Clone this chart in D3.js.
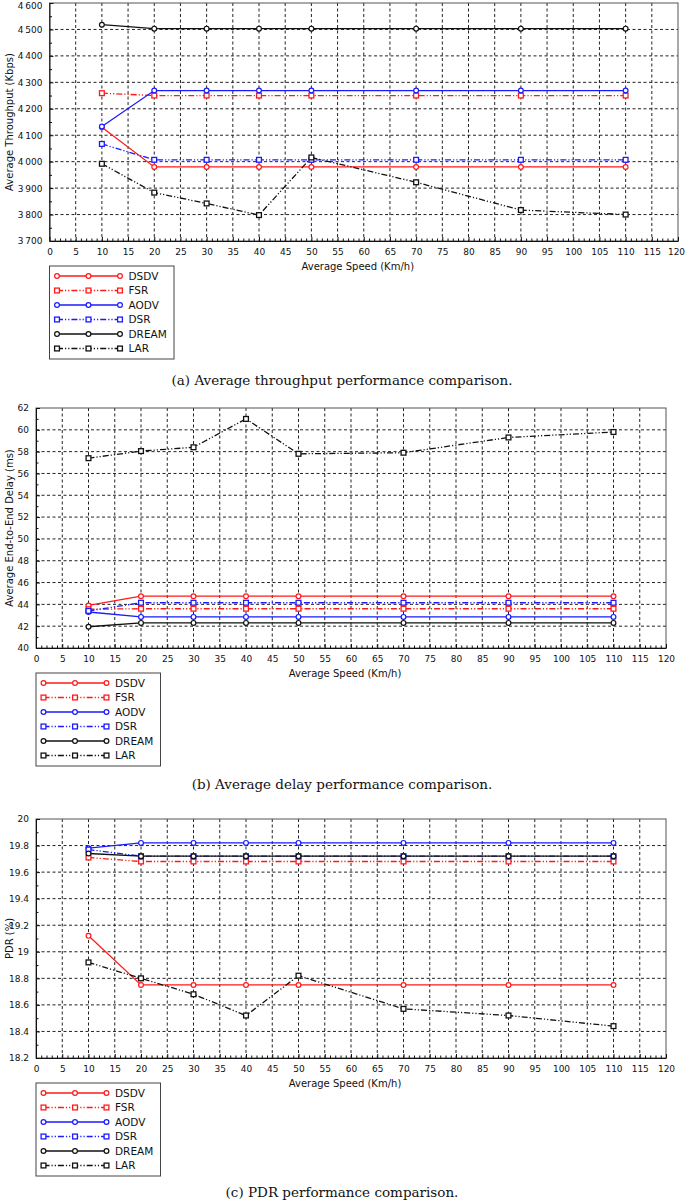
<!DOCTYPE html>
<html>
<head>
<meta charset="utf-8">
<script src="https://cdn.jsdelivr.net/npm/d3@7"></script>
<style>
  body { margin: 0; background: #fff; }
  svg { display: block; }
  text { font-family: "DejaVu Sans", sans-serif; fill: #111; }
  .caption { font-family: "DejaVu Serif", serif; }
</style>
</head>
<body>
<svg id="fig" width="685" height="1202"></svg>
<script>
// speeds on the x axis (km/h)
var speeds = [10, 20, 30, 40, 50, 70, 90, 110];
var protocols = ["DSDV", "FSR", "AODV", "DSR", "DREAM", "LAR"];

// (a) throughput, Kbps
var thrDSDV  = [4130, 3980, 3980, 3980, 3980, 3980, 3980, 3980];
var thrFSR   = [4259, 4250, 4250, 4250, 4250, 4250, 4250, 4250];
var thrAODV  = [4133, 4269, 4269, 4269, 4269, 4269, 4269, 4269];
var thrDSR   = [4067, 4007, 4007, 4007, 4007, 4007, 4007, 4007];
var thrDREAM = [4518, 4503, 4503, 4503, 4503, 4503, 4503, 4503];
var thrLAR   = [3992, 3883, 3842, 3798, 4016, 3922, 3817, 3800];

// (b) end-to-end delay, ms
var delDSDV  = [43.9, 44.75, 44.75, 44.75, 44.75, 44.75, 44.75, 44.75];
var delFSR   = [43.55, 43.6, 43.6, 43.6, 43.6, 43.6, 43.6, 43.6];
var delAODV  = [43.3, 42.85, 42.85, 42.85, 42.85, 42.85, 42.85, 42.85];
var delDSR   = [43.4, 44.15, 44.15, 44.15, 44.15, 44.15, 44.15, 44.15];
var delDREAM = [41.95, 42.3, 42.3, 42.3, 42.3, 42.3, 42.3, 42.3];
var delLAR   = [57.4, 58.05, 58.4, 61.0, 57.8, 57.9, 59.3, 59.8];

// (c) packet delivery ratio, %
var pdrDSDV  = [19.12, 18.75, 18.75, 18.75, 18.75, 18.75, 18.75, 18.75];
var pdrFSR   = [19.71, 19.68, 19.68, 19.68, 19.68, 19.68, 19.68, 19.68];
var pdrAODV  = [19.78, 19.82, 19.82, 19.82, 19.82, 19.82, 19.82, 19.82];
var pdrDSR   = [19.77, 19.72, 19.72, 19.72, 19.72, 19.72, 19.72, 19.72];
var pdrDREAM = [19.74, 19.72, 19.72, 19.72, 19.72, 19.72, 19.72, 19.72];
var pdrLAR   = [18.92, 18.80, 18.68, 18.52, 18.82, 18.57, 18.52, 18.44];

var thrTicks = [3700, 3800, 3900, 4000, 4100, 4200, 4300, 4400, 4500, 4600];
var delTicks = [40, 42, 44, 46, 48, 50, 52, 54, 56, 58, 60, 62];
var pdrTicks = [18.2, 18.4, 18.6, 18.8, 19, 19.2, 19.4, 19.6, 19.8, 20];
var xTicks = d3.range(0, 121, 5);

// line look per protocol
var colors = {DSDV: "#ff1a1a", FSR: "#ff1a1a", AODV: "#1a1aff", DSR: "#1a1aff", DREAM: "#111", LAR: "#111"};
var shapes = {DSDV: "circle", FSR: "square", AODV: "circle", DSR: "square", DREAM: "circle", LAR: "square"};
var dashed = {DSDV: false, FSR: true, AODV: false, DSR: true, DREAM: false, LAR: true};
var dashPattern = "6,2,1.2,2,1.2,2";

var svg = d3.select("#fig");

function marker(g, shape, x, y, color) {
  if (shape == "circle") {
    g.append("circle").attr("cx", x).attr("cy", y).attr("r", 2.4)
      .attr("fill", "#fff").attr("stroke", color).attr("stroke-width", 1.2);
  } else {
    g.append("rect").attr("x", x - 2.4).attr("y", y - 2.4).attr("width", 4.8).attr("height", 4.8)
      .attr("fill", "#fff").attr("stroke", color).attr("stroke-width", 1.3);
  }
}

function drawChart(cfg) {
  var g = svg.append("g");
  var x = d3.scaleLinear().domain([0, 120]).range([cfg.left, cfg.right]);
  var y = d3.scaleLinear().domain([cfg.ticks[0], cfg.ticks[cfg.ticks.length - 1]]).range([cfg.bottom, cfg.top]);

  // dashed grid
  var grid = g.append("g").attr("stroke", "#222").attr("stroke-width", 1).attr("stroke-dasharray", "3,2.5");
  xTicks.slice(1, -1).forEach(function(t) {
    grid.append("line").attr("x1", x(t)).attr("x2", x(t)).attr("y1", cfg.top).attr("y2", cfg.bottom);
  });
  cfg.ticks.slice(1, -1).forEach(function(t) {
    grid.append("line").attr("x1", cfg.left).attr("x2", cfg.right).attr("y1", y(t)).attr("y2", y(t));
  });

  // frame
  g.append("rect").attr("x", cfg.left).attr("y", cfg.top)
    .attr("width", cfg.right - cfg.left).attr("height", cfg.bottom - cfg.top)
    .attr("fill", "none").attr("stroke", "#555").attr("stroke-width", 1);

  // axes with inward ticks
  var xAxis = d3.axisBottom(x).tickValues(xTicks).tickSizeInner(-4).tickSizeOuter(0).tickPadding(8);
  var gx = g.append("g").attr("transform", "translate(0," + cfg.bottom + ")").call(xAxis);
  var yAxis = d3.axisLeft(y).tickValues(cfg.ticks).tickFormat(cfg.fmt).tickSizeInner(-4).tickSizeOuter(0).tickPadding(7);
  var gy = g.append("g").attr("transform", "translate(" + cfg.left + ",0)").call(yAxis);
  [gx, gy].forEach(function(a) {
    a.select(".domain").attr("stroke", "#111");
    a.selectAll(".tick line").attr("stroke", "#111");
    a.selectAll(".tick text").attr("font-size", 9).attr("font-family", "DejaVu Sans").attr("fill", "#111");
  });
  // keep the outermost labels inside the page
  gx.selectAll(".tick text").filter(function(d) { return d == 120; }).attr("dx", cfg.right > 670 ? -2 : 0);
  gy.selectAll(".tick text").filter(function(d) { return y(d) < 6; }).attr("dy", "0.32em").attr("y", 0)
    .attr("transform", "translate(0," + (6 - cfg.top) + ")");

  // minor ticks
  var minorX = d3.range(0, 121, 1).filter(function(t) { return t % 5 != 0; });
  g.append("g").call(d3.axisBottom(x).tickValues(minorX).tickSizeInner(-2.5).tickSizeOuter(0).tickFormat(""))
    .attr("transform", "translate(0," + cfg.bottom + ")")
    .call(function(a) { a.select(".domain").remove(); a.selectAll("line").attr("stroke", "#111"); });
  var minorY = cfg.ticks.slice(0, -1).map(function(t, i) { return (t + cfg.ticks[i + 1]) / 2; });
  g.append("g").call(d3.axisLeft(y).tickValues(minorY).tickSizeInner(-2.5).tickSizeOuter(0).tickFormat(""))
    .attr("transform", "translate(" + cfg.left + ",0)")
    .call(function(a) { a.select(".domain").remove(); a.selectAll("line").attr("stroke", "#111"); });

  // series
  var line = d3.line().x(function(d) { return x(d[0]); }).y(function(d) { return y(d[1]); });
  protocols.forEach(function(p, i) {
    var pts = speeds.map(function(s, j) { return [s, cfg.series[i][j]]; });
    var s = g.append("g");
    s.append("path").attr("d", line(pts)).attr("fill", "none")
      .attr("stroke", colors[p]).attr("stroke-width", 1.3)
      .attr("stroke-dasharray", dashed[p] ? dashPattern : null);
    pts.forEach(function(d) { marker(s, shapes[p], x(d[0]), y(d[1]), colors[p]); });
  });

  // axis titles
  g.append("text").attr("x", (cfg.left + cfg.right) / 2 - 6).attr("y", cfg.bottom + 29)
    .attr("text-anchor", "middle").attr("font-size", 10).text("Average Speed (Km/h)");
  g.append("text").attr("transform", "translate(" + cfg.ytitleX + "," + (cfg.top + cfg.bottom) / 2 + ") rotate(-90)")
    .attr("text-anchor", "middle").attr("font-size", 10).text(cfg.ytitle);

  // legend
  var lx = cfg.left, ly = cfg.bottom + 25;
  var lg = g.append("g").attr("transform", "translate(" + lx + "," + ly + ")");
  lg.append("rect").attr("width", 124.5).attr("height", 93).attr("fill", "#fff")
    .attr("stroke", "#444").attr("stroke-width", 1);
  protocols.forEach(function(p, i) {
    var yy = 10 + i * 14.5;
    lg.append("line").attr("x1", 7.5).attr("x2", 70.5).attr("y1", yy).attr("y2", yy)
      .attr("stroke", colors[p]).attr("stroke-width", 1.3)
      .attr("stroke-dasharray", dashed[p] ? dashPattern : null);
    [7.5, 39, 70.5].forEach(function(mx) { marker(lg, shapes[p], mx, yy, colors[p]); });
    lg.append("text").attr("x", 79).attr("y", yy + 3.8).attr("font-size", 10.5).text(p);
  });

  // caption
  svg.append("text").attr("class", "caption").attr("x", 342).attr("y", cfg.captionY)
    .attr("text-anchor", "middle").attr("font-size", 13.5).text(cfg.caption);
}

var fmtSpace = function(d) { return d3.format(",")(d).replace(",", "\u2009"); };

drawChart({
  left: 49.5, right: 678, top: 3, bottom: 241, ticks: thrTicks, fmt: fmtSpace,
  series: [thrDSDV, thrFSR, thrAODV, thrDSR, thrDREAM, thrLAR],
  ytitle: "Average Throughput (Kbps)", ytitleX: 13,
  caption: "(a) Average throughput performance comparison.", captionY: 385
});
drawChart({
  left: 36, right: 666, top: 408, bottom: 648, ticks: delTicks, fmt: d3.format("d"),
  series: [delDSDV, delFSR, delAODV, delDSR, delDREAM, delLAR],
  ytitle: "Average End-to-End Delay (ms)", ytitleX: 13,
  caption: "(b) Average delay performance comparison.", captionY: 789
});
drawChart({
  left: 36, right: 666, top: 819, bottom: 1058, ticks: pdrTicks, fmt: function(d) { return String(+d.toFixed(1)); },
  series: [pdrDSDV, pdrFSR, pdrAODV, pdrDSR, pdrDREAM, pdrLAR],
  ytitle: "PDR (%)", ytitleX: 13,
  caption: "(c) PDR performance comparison.", captionY: 1197
});
</script>
</body>
</html>
